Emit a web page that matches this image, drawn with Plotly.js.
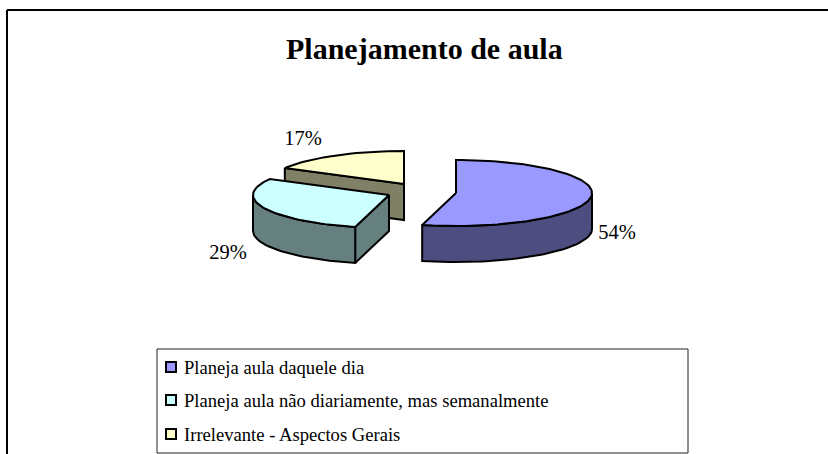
<!DOCTYPE html>
<html><head><meta charset="utf-8">
<script src="https://cdn.plot.ly/plotly-3.0.1.min.js"></script>
<style>html,body{margin:0;padding:0;background:#fff}#c{width:828px;height:454px}</style>
</head><body><div id="c"></div>
<script>
const categories = ["Planeja aula daquele dia","Planeja aula não diariamente, mas semanalmente","Irrelevante - Aspectos Gerais"];
const values = [54,29,17];
const valueLabels = ["54%","29%","17%"];
const topColors = ["#9999FF","#CCFFFF","#FFFFCC"];
const sideColors = ["#4D4D80","#668080","#808066"];
const apexX = [456,389,404];
const apexY = [193,195,184];
const labelX = [617,228,303];
const labelY = [234,254,140];
const legendY = [367,400,434];
const legendTextY = [369,402,436];

const RX=136, RY=33, DEPTH=36, FONT="Liberation Serif, Times New Roman, serif";
const total=values.reduce((a,b)=>a+b,0);
let cum=0;
const slices=values.map((v,i)=>{const s=cum/total*2*Math.PI;cum+=v;return{i,s,e:cum/total*2*Math.PI};});
function pt(i,a,dz){return [apexX[i]+RX*Math.sin(a),apexY[i]-RY*Math.cos(a)+(dz||0)];}
function arc(i,a0,a1,dz){const n=Math.max(2,Math.ceil(Math.abs(a1-a0)/0.04));const o=[];
  for(let k=0;k<=n;k++)o.push(pt(i,a0+(a1-a0)*k/n,dz));return o;}
function poly(points,fill){points=points.concat([points[0]]);
  return {type:'scatter',mode:'lines',x:points.map(p=>p[0]),y:points.map(p=>p[1]),fill:'toself',fillcolor:fill,
    line:{color:'#000',width:2,shape:'linear'},hoverinfo:'skip',showlegend:false};}
const traces=[];
[2,1,0].forEach(i=>{
  const {s,e}=slices[i];
  const A=[apexX[i],apexY[i]];
  const A2=[A[0],A[1]+DEPTH];
  if(i===2||i===1){const p=pt(i,s);traces.push(poly([p,A,A2,[p[0],p[1]+DEPTH]],sideColors[i]));}
  const r0=Math.max(s,Math.PI/2), r1=Math.min(e,3*Math.PI/2);
  if(r1>r0){traces.push(poly(arc(i,r0,r1).concat(arc(i,r1,r0,DEPTH)),sideColors[i]));}
  traces.push(poly([A].concat(arc(i,s,e)),topColors[i]));
});
traces.push({type:'scatter',mode:'text',x:labelX,y:labelY,text:valueLabels,textposition:'middle center',
  textfont:{family:FONT,size:20.5,color:'#000'},hoverinfo:'skip',showlegend:false});
traces.push({type:'scatter',mode:'markers',x:legendY.map(()=>171),y:legendY,
  marker:{symbol:'square',size:10,color:topColors,line:{color:'#000',width:2}},hoverinfo:'skip',showlegend:false});
traces.push({type:'scatter',mode:'text',x:legendY.map(()=>184),y:legendTextY,text:categories,textposition:'middle right',
  textfont:{family:FONT,size:18.6,color:'#000'},hoverinfo:'skip',showlegend:false});
const layout={width:828,height:454,margin:{l:0,r:0,t:0,b:0},paper_bgcolor:'#fff',plot_bgcolor:'#fff',showlegend:false,
  xaxis:{range:[0,828],visible:false,fixedrange:true},
  yaxis:{range:[454,0],visible:false,fixedrange:true},
  annotations:[{xref:'paper',yref:'paper',x:424/828,y:1-48/454,text:'<b>Planejamento de aula</b>',showarrow:false,
    font:{family:FONT,size:30,color:'#000'},xanchor:'center',yanchor:'middle'}],
  shapes:[
    {type:'line',xref:'x',yref:'y',x0:7,x1:828,y0:10,y1:10,line:{color:'#000',width:2},layer:'below'},
    {type:'line',xref:'x',yref:'y',x0:7,x1:7,y0:10,y1:454,line:{color:'#000',width:2},layer:'below'},
    {type:'rect',xref:'x',yref:'y',x0:157,x1:688,y0:349,y1:453,line:{color:'#222',width:1},fillcolor:'rgba(0,0,0,0)',layer:'below'}
  ]};
Plotly.newPlot('c',traces,layout,{displayModeBar:false,staticPlot:true});
</script></body></html>
